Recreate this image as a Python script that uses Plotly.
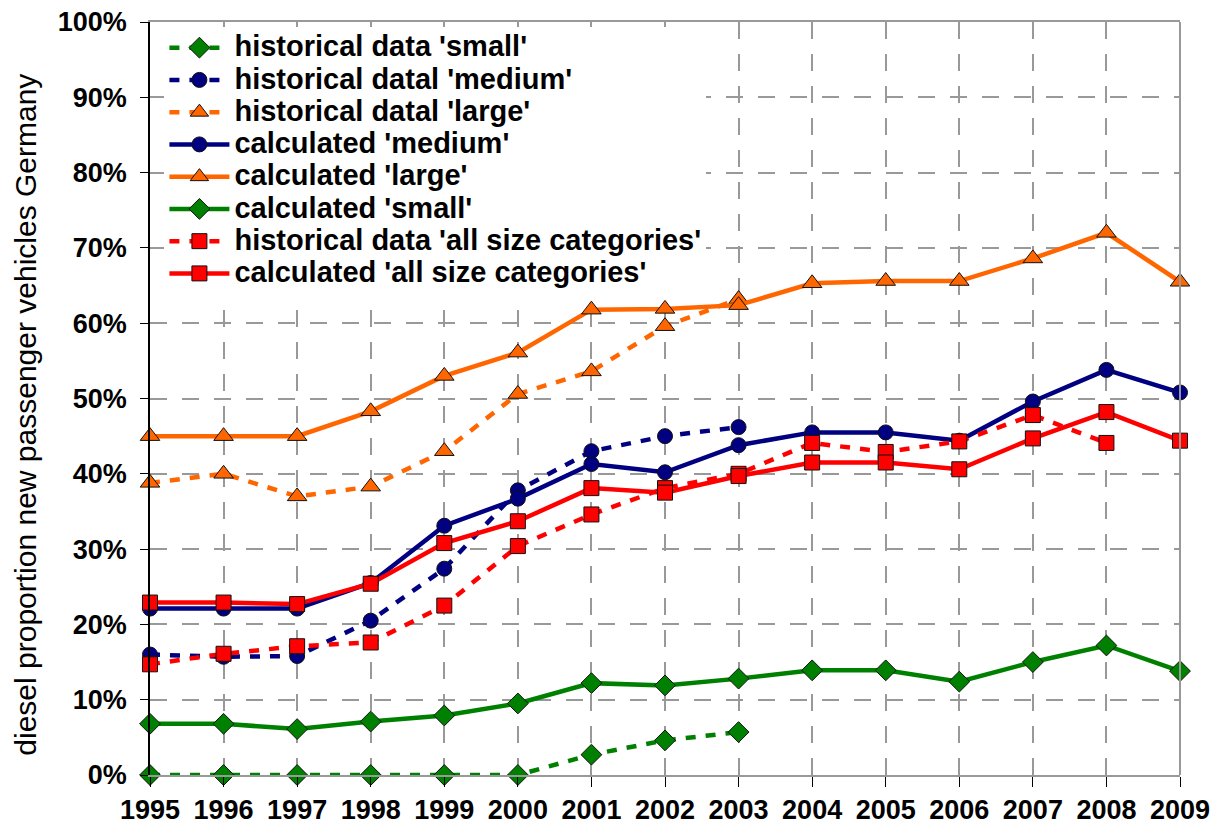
import plotly.graph_objects as go

years = list(range(1995, 2010))

hist_small = [0, 0, 0, 0, 0, 0, 2.7, 4.6, 5.7]
hist_medium = [16.0, 15.7, 15.8, 20.5, 27.4, 37.8, 43.0, 45.0, 46.2]
hist_large = [38.8, 40.0, 37.0, 38.3, 43.0, 50.6, 53.6, 59.6, 63.2]
calc_medium = [22.1, 22.1, 22.1, 25.5, 33.1, 36.7, 41.3, 40.2, 43.8,
               45.5, 45.5, 44.4, 49.6, 53.8, 50.8]
calc_large = [45.0, 45.0, 45.0, 48.3, 53.0, 56.1, 61.8, 61.9, 62.4,
              65.3, 65.6, 65.6, 68.6, 72.0, 65.5]
calc_small = [6.8, 6.8, 6.1, 7.1, 7.9, 9.5, 12.2, 11.9, 12.8,
              13.9, 13.9, 12.4, 15.0, 17.2, 13.8]
hist_all = [14.7, 16.1, 17.1, 17.6, 22.5, 30.4, 34.6, 38.1, 40.0,
            44.1, 42.9, 44.3, 47.8, 44.1]
calc_all = [22.9, 22.9, 22.7, 25.4, 30.8, 33.7, 38.1, 37.5, 39.7,
            41.5, 41.5, 40.6, 44.7, 48.2, 44.4]

y_ticks = list(range(0, 101, 10))
y_labels = [f"{v}%" for v in y_ticks]

GREEN = "#008000"
NAVY = "#000080"
ORANGE = "#FF6600"
RED = "#FF0000"

FONT = "Liberation Sans, Arial, sans-serif"

series = [
    ("historical data 'small'", hist_small, GREEN, "diamond", 16, "10px,10px"),
    ("historical datal 'medium'", hist_medium, NAVY, "circle", 15, "10px,10px"),
    ("historical datal 'large'", hist_large, ORANGE, "triangle-up", 17, "10px,10px"),
    ("calculated 'medium'", calc_medium, NAVY, "circle", 15, "solid"),
    ("calculated 'large'", calc_large, ORANGE, "triangle-up", 17, "solid"),
    ("calculated 'small'", calc_small, GREEN, "diamond", 16, "solid"),
    ("historical data 'all size categories'", hist_all, RED, "square", 15, "10px,10px"),
    ("calculated 'all size categories'", calc_all, RED, "square", 15, "solid"),
]

fig = go.Figure()

for name, values, color, symbol, size, dash in series:
    fig.add_trace(
        go.Scatter(
            x=years[:len(values)],
            y=values,
            # bigger text than the legend font, so rows stay tight like the original
            name=f'<span style="font-size:29px">{name}</span>',
            mode="lines+markers",
            line=dict(color=color, width=4.5, dash=dash),
            marker=dict(
                symbol=symbol,
                size=size,
                color=color,
                line=dict(color="#111111", width=1)
            ),
            cliponaxis=False
        )
    )

fig.update_layout(
    width=1214,
    height=831,
    margin=dict(l=150, r=34, t=22, b=56),
    plot_bgcolor="white",
    paper_bgcolor="white",
    font=dict(family=FONT, color="black"),
    showlegend=True,
    legend=dict(
        x=0.014,
        y=0.994,
        xanchor="left",
        yanchor="top",
        bgcolor="white",
        font=dict(family=FONT, size=22.5, color="black", weight="bold"),
        itemwidth=60,
        tracegroupgap=0
    )
)

fig.update_xaxes(
    range=[1995, 2009],
    tickmode="array",
    tickvals=years,
    ticktext=[str(y) for y in years],
    tickfont=dict(family=FONT, size=27, weight="bold"),
    ticklabeloverflow="allow",
    ticks="outside",
    ticklen=10,
    tickcolor="black",
    automargin=False,
    showline=True,
    linecolor="#999999",
    linewidth=2,
    mirror=True,
    showgrid=True,
    gridcolor="#999999",
    gridwidth=1.5,
    griddash="17px,15px",
    zeroline=False
)

fig.update_yaxes(
    range=[0, 100],
    tickmode="array",
    tickvals=y_ticks,
    ticktext=y_labels,
    tickfont=dict(family=FONT, size=27, weight="bold"),
    ticklabeloverflow="allow",
    ticks="outside",
    ticklen=8,
    tickcolor="black",
    ticklabelstandoff=8,
    automargin=False,
    showline=True,
    linecolor="black",
    linewidth=1.5,
    showgrid=True,
    gridcolor="#999999",
    gridwidth=1.5,
    griddash="17px,15px",
    zeroline=False
)

# y axis title placed as an annotation so it can sit where the original has it
fig.add_annotation(
    text="diesel proportion new passenger vehicles Germany",
    xref="paper", yref="paper",
    x=-0.121, y=0.479,
    xanchor="center", yanchor="middle",
    textangle=-90,
    showarrow=False,
    font=dict(family=FONT, size=30, color="black")
)

fig.add_shape(
    type="line",
    xref="paper", yref="paper",
    x0=1, x1=1, y0=0, y1=1,
    line=dict(color="#999999", width=2)
)

# drop the default 8px page margin so the figure fills the window exactly
fig.write_html(
    "out.html",
    config={"displayModeBar": False},
    post_script="document.body.style.margin = '0';"
)
